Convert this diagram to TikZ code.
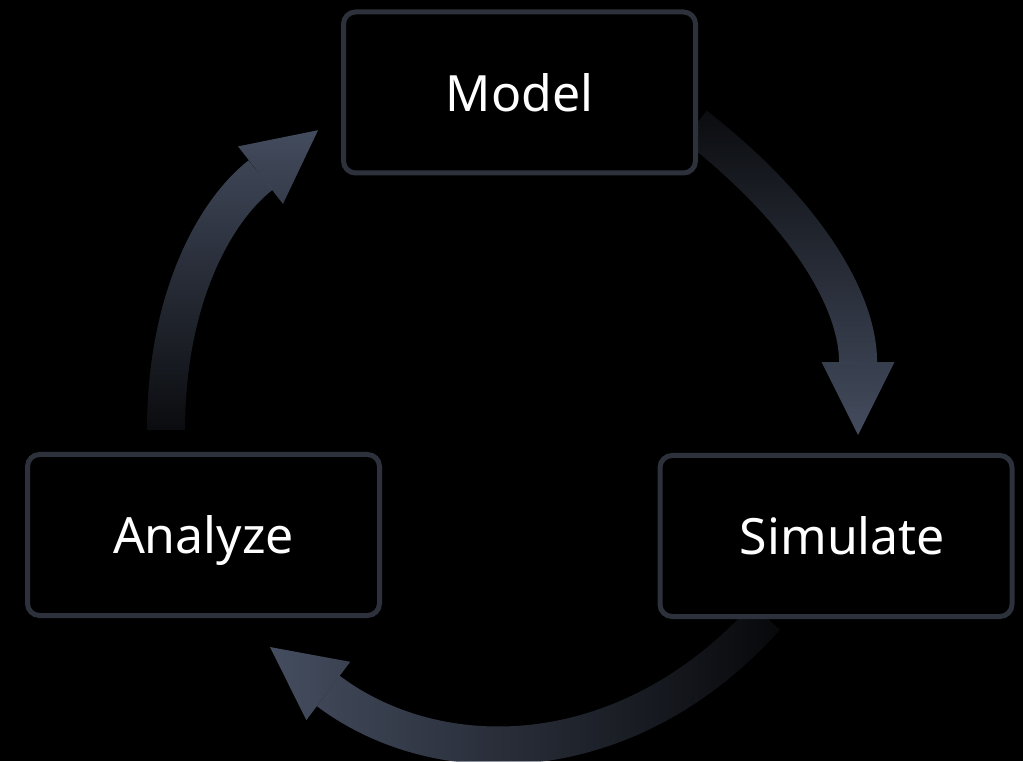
\documentclass[tikz,border=0pt]{standalone}
\usepackage{fontspec}
\setmainfont{Noto Sans}
\usetikzlibrary{positioning,arrows.meta,fadings}
\definecolor{edgec}{HTML}{2D313B}
\definecolor{flowc}{HTML}{475063}
\tikzfading[name=fadeS, top color=transparent!85, middle color=transparent!35, bottom color=transparent!0]
\tikzfading[name=fadeN, bottom color=transparent!90, middle color=transparent!15, top color=transparent!0]
\tikzfading[name=fadeW, right color=transparent!90, middle color=transparent!5, left color=transparent!0]
\pgfdeclarelayer{bg}
\pgfsetlayers{bg,main}

\begin{document}
\begin{tikzpicture}[x=1pt, y=1pt, font=\fontsize{50}{60}\selectfont,
  st/.style={draw=edgec, line width=5pt, rounded corners=12pt, fill=black, text=white,
    minimum width=352pt, minimum height=161pt, text depth=0pt},
  ar/.style={flowc, line width=38pt, -{Triangle[length=73pt, width=73pt, line width=0pt]}}]
\useasboundingbox (0,0) rectangle (1023,761);
\node[st] (model) at (519.5,668.5) {Model};
\node[st] (sim) at (836,225) {\hspace*{13pt}Simulate};
\node[st] (ana) at (203.5,226) {Analyze};
% arrow ends
\coordinate (m1) at ([xshift=-3pt,yshift=-33pt]model.east);
\coordinate (s0) at ([xshift=22pt,yshift=18pt]sim.north);
\coordinate (s1) at ([xshift=-70pt,yshift=2pt]sim.south);
\coordinate (a0) at ([xshift=66.5pt,yshift=-29pt]ana.south);
\coordinate (a1) at ([xshift=-37.5pt,yshift=22pt]ana.north);
\coordinate (m0) at ([xshift=-23pt,yshift=-37.5pt]model.west);
\begin{pgfonlayer}{bg}
\fill[black] (0,0) rectangle (1023,761);
\draw[ar, path fading=fadeS] (m1) to[out=-38, in=90] (s0);
\draw[ar, path fading=fadeW] (s1) to[out=228, in=-37, looseness=1.08] (a0);
\draw[ar, path fading=fadeN] (a1) to[out=90, in=218] (m0);
\end{pgfonlayer}
\end{tikzpicture}
\end{document}
